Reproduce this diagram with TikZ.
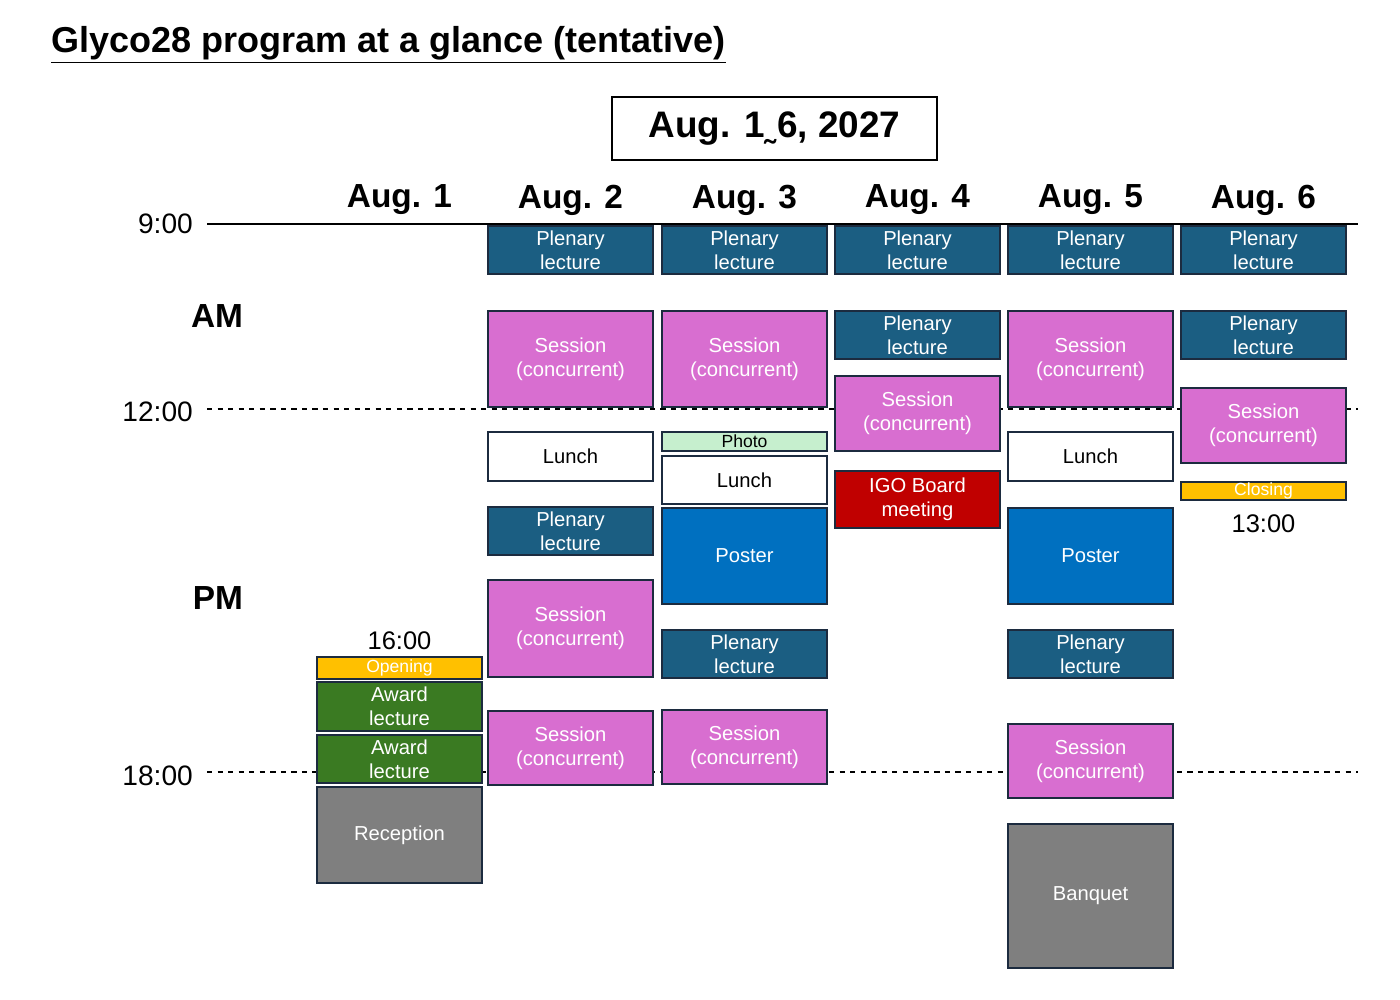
\documentclass[tikz,border=0pt]{standalone}
\usepackage{fontspec}
\setmainfont{Liberation Sans}
\definecolor{plenblue}{HTML}{1B5E82}
\definecolor{sesspink}{HTML}{D86ED0}
\definecolor{posterblue}{HTML}{0070C0}
\definecolor{igored}{HTML}{C00000}
\definecolor{awardgreen}{HTML}{3A7A22}
\definecolor{partygray}{HTML}{7F7F7F}
\definecolor{openyellow}{HTML}{FFC000}
\definecolor{photogreen}{HTML}{C6EFCE}
\definecolor{edgenavy}{HTML}{1C2B3F}
\tikzset{
  slot/.style={draw=edgenavy,line width=0.9pt},
  slottext/.style={text=white,align=center,font=\fontsize{11.5}{13.5}\selectfont},
  plen/.style={slot,fill=plenblue},
  sess/.style={slot,fill=sesspink},
  lunchbox/.style={slot,fill=white},
  timelabel/.style={font=\fontsize{16}{18}\selectfont},
  dayhead/.style={font=\fontsize{19}{21}\selectfont\bfseries},
}
\begin{document}
\begin{tikzpicture}[x=0.02cm,y=-0.02cm]
	\useasboundingbox (0,0) rectangle (1400,1000);
	\node[anchor=west,font=\fontsize{20.5}{22}\selectfont\bfseries] (title) at (45,45) {\underline{Glyco28 program at a glance (tentative)}};
	\draw[line width=0.9pt] (612,97) rectangle (937,160) node[midway,font=\fontsize{21}{23}\selectfont\bfseries] (dates) {Aug. 1\texttildelow6, 2027};

	% time axis
	\draw[line width=0.9pt] (207,224) -- (1358,224);
	\draw[dashed,line width=0.8pt] (207,409) -- (1358,409);
	\draw[dashed,line width=0.8pt] (207,772) -- (1358,772);
	\node[timelabel,anchor=east] (t9) at (199,224) {9:00};
	\node[timelabel,anchor=east] (t12) at (199,412) {12:00};
	\node[timelabel,anchor=east] (t18) at (199,776) {18:00};
	\node[dayhead] (am) at (217,316) {AM};
	\node[dayhead] (pm) at (218,598) {PM};

	\foreach \day/\cx in {1/399.5,2/570.5,3/744.5,4/917.5,5/1090.5,6/1263.5}
		\node[dayhead] (d\day) at (\cx,200) {Aug. \day};

	% Aug. 1
	\node[timelabel,font=\fontsize{14.5}{16}\selectfont] (t16) at (399.5,641) {16:00};
	\draw[slot,fill=openyellow] (317,657) rectangle (482,679) node[midway,slottext,font=\fontsize{10}{11}\selectfont] (open1) {Opening};
	\draw[slot,fill=awardgreen] (317,682) rectangle (482,731) node[midway,slottext] (aw1a) {Award\\lecture};
	\draw[slot,fill=awardgreen] (317,735) rectangle (482,783) node[midway,slottext] (aw1b) {Award\\lecture};
	\draw[slot,fill=partygray] (317,787) rectangle (482,883) node[midway,slottext] (rec1) {Reception};

	% Aug. 2
	\draw[plen] (488,226) rectangle (653,274) node[midway,slottext] (pl2a) {Plenary\\lecture};
	\draw[sess] (488,311) rectangle (653,407) node[midway,slottext] (se2a) {Session\\(concurrent)};
	\draw[lunchbox] (488,432) rectangle (653,481) node[midway,slottext,text=black] (lu2) {Lunch};
	\draw[plen] (488,507) rectangle (653,555) node[midway,slottext] (pl2b) {Plenary\\lecture};
	\draw[sess] (488,580) rectangle (653,677) node[midway,slottext] (se2b) {Session\\(concurrent)};
	\draw[sess] (488,711) rectangle (653,785) node[midway,slottext] (se2c) {Session\\(concurrent)};

	% Aug. 3
	\draw[plen] (662,226) rectangle (827,274) node[midway,slottext] (pl3a) {Plenary\\lecture};
	\draw[sess] (662,311) rectangle (827,407) node[midway,slottext] (se3a) {Session\\(concurrent)};
	\draw[slot,fill=photogreen] (662,432) rectangle (827,451) node[midway,slottext,text=black,font=\fontsize{10}{11}\selectfont] (ph3) {Photo};
	\draw[lunchbox] (662,456) rectangle (827,504) node[midway,slottext,text=black] (lu3) {Lunch};
	\draw[slot,fill=posterblue] (662,508) rectangle (827,604) node[midway,slottext] (po3) {Poster};
	\draw[plen] (662,630) rectangle (827,678) node[midway,slottext] (pl3b) {Plenary\\lecture};
	\draw[sess] (662,710) rectangle (827,784) node[midway,slottext] (se3b) {Session\\(concurrent)};

	% Aug. 4
	\draw[plen] (835,226) rectangle (1000,274) node[midway,slottext] (pl4a) {Plenary\\lecture};
	\draw[plen] (835,311) rectangle (1000,359) node[midway,slottext] (pl4b) {Plenary\\lecture};
	\draw[sess] (835,376) rectangle (1000,451) node[midway,slottext] (se4) {Session\\(concurrent)};
	\draw[slot,fill=igored] (835,471) rectangle (1000,528) node[midway,slottext] (igo4) {IGO Board\\meeting};

	% Aug. 5
	\draw[plen] (1008,226) rectangle (1173,274) node[midway,slottext] (pl5a) {Plenary\\lecture};
	\draw[sess] (1008,311) rectangle (1173,407) node[midway,slottext] (se5a) {Session\\(concurrent)};
	\draw[lunchbox] (1008,432) rectangle (1173,481) node[midway,slottext,text=black] (lu5) {Lunch};
	\draw[slot,fill=posterblue] (1008,508) rectangle (1173,604) node[midway,slottext] (po5) {Poster};
	\draw[plen] (1008,630) rectangle (1173,678) node[midway,slottext] (pl5b) {Plenary\\lecture};
	\draw[sess] (1008,724) rectangle (1173,798) node[midway,slottext] (se5b) {Session\\(concurrent)};
	\draw[slot,fill=partygray] (1008,824) rectangle (1173,968) node[midway,slottext] (ban5) {Banquet};

	% Aug. 6
	\draw[plen] (1181,226) rectangle (1346,274) node[midway,slottext] (pl6a) {Plenary\\lecture};
	\draw[plen] (1181,311) rectangle (1346,359) node[midway,slottext] (pl6b) {Plenary\\lecture};
	\draw[sess] (1181,388) rectangle (1346,463) node[midway,slottext] (se6) {Session\\(concurrent)};
	\draw[slot,fill=openyellow] (1181,482) rectangle (1346,500) node[midway,slottext,font=\fontsize{10}{11}\selectfont] (clo6) {Closing};
	\node[timelabel,font=\fontsize{14.5}{16}\selectfont] (t13) at (1263.5,524) {13:00};
\end{tikzpicture}
\end{document}
